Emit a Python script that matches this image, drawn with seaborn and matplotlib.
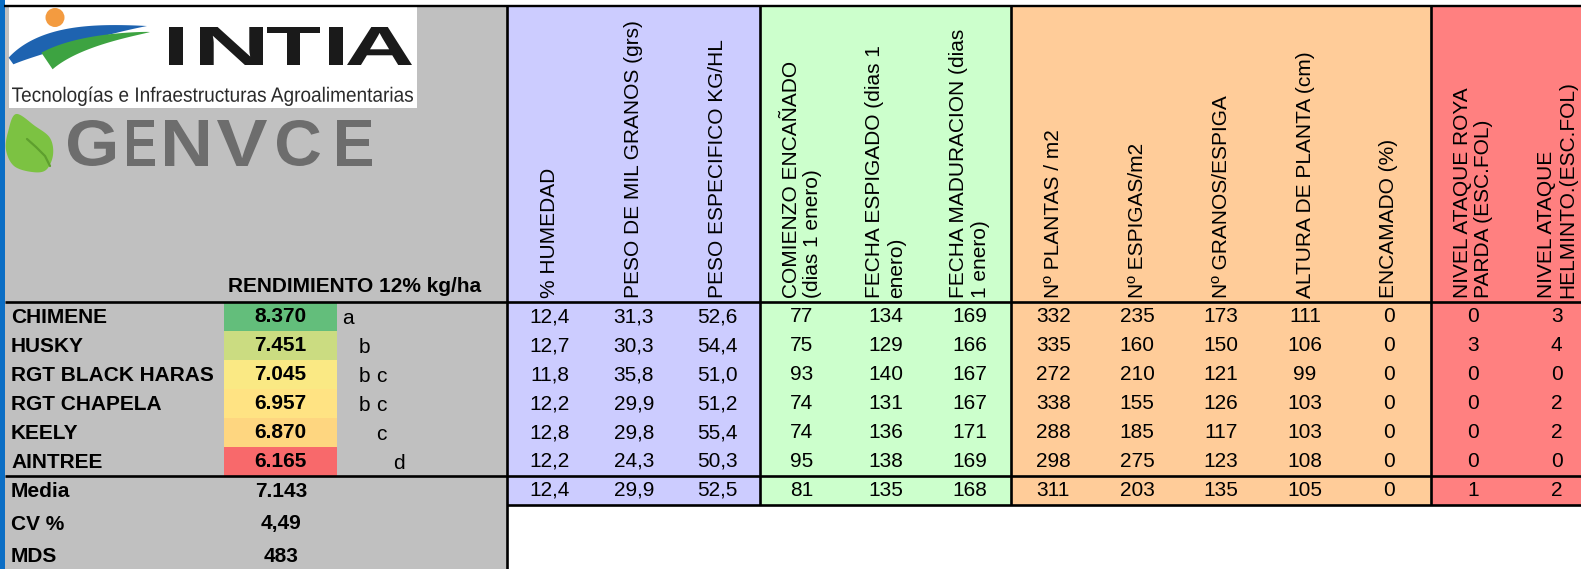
import numpy as np
import pandas as pd
import matplotlib
matplotlib.use("Agg")
import matplotlib.pyplot as plt
import seaborn as sns
from matplotlib.colors import ListedColormap, LinearSegmentedColormap
from matplotlib.patches import Rectangle, PathPatch, Circle, Polygon
from matplotlib.textpath import TextPath
from matplotlib.font_manager import FontProperties
from matplotlib.transforms import Affine2D

# ---------------- data ----------------
varieties = ["CHIMENE", "HUSKY", "RGT BLACK HARAS", "RGT CHAPELA", "KEELY", "AINTREE"]
rendimiento = [8370, 7451, 7045, 6957, 6870, 6165]
letras = ["a", "b", "bc", "bc", "c", "d"]
stat_labels = ["Media", "CV %", "MDS"]
stat_values = ["7.143", "4,49", "483"]

column_headers = [
    "% HUMEDAD",
    "PESO DE MIL GRANOS (grs)",
    "PESO ESPECIFICO KG/HL",
    "COMIENZO ENCAÑADO\n(dias 1 enero)",
    "FECHA ESPIGADO (dias 1\nenero)",
    "FECHA MADURACION (dias\n1 enero)",
    "Nº PLANTAS / m2",
    "Nº ESPIGAS/m2",
    "Nº GRANOS/ESPIGA",
    "ALTURA DE PLANTA (cm)",
    "ENCAMADO (%)",
    "NIVEL ATAQUE ROYA\nPARDA (ESC.FOL)",
    "NIVEL ATAQUE\nHELMINTO.(ESC.FOL)",
]
column_groups = [0, 0, 0, 1, 1, 1, 2, 2, 2, 2, 2, 3, 3]
column_decimals = [1, 1, 1, 0, 0, 0, 0, 0, 0, 0, 0, 0, 0]

humedad = [12.4, 12.7, 11.8, 12.2, 12.8, 12.2]
peso_mil = [31.3, 30.3, 35.8, 29.9, 29.8, 24.3]
peso_esp = [52.6, 54.4, 51.0, 51.2, 55.4, 50.3]
encanado = [77, 75, 93, 74, 74, 95]
espigado = [134, 129, 140, 131, 136, 138]
maduracion = [169, 166, 167, 167, 171, 169]
plantas = [332, 335, 272, 338, 288, 298]
espigas = [235, 160, 210, 155, 185, 275]
granos = [173, 150, 121, 126, 117, 123]
altura = [111, 106, 99, 103, 103, 108]
encamado = [0, 0, 0, 0, 0, 0]
roya = [0, 3, 0, 0, 0, 0]
helminto = [3, 4, 0, 2, 2, 0]
medias = [12.4, 29.9, 52.5, 81, 135, 168, 311, 203, 135, 105, 0, 1, 2]

# ---------------- style ----------------
group_colors = ["#CCCCFF", "#CCFFCC", "#FFCC99", "#FF8080"]
GRAY = "#C0C0C0"
FS = 15
sns.set_theme(style="white")
plt.rcParams["font.family"] = ["Liberation Sans", "DejaVu Sans"]
plt.rcParams["text.color"] = "black"

W, H = 1581, 569
fig = plt.figure(figsize=(W / 100, H / 100), dpi=100)


def px_axes(x0, y0, x1, y1, z):
    ax = fig.add_axes([x0 / W, 1 - y1 / H, (x1 - x0) / W, (y1 - y0) / H])
    ax.set_zorder(z)
    return ax


# layout geometry (pixels)
COL_LEFT, COL_W = 508, 83.9
ROW_TOP, ROW_H = 302.5, 28.9
HEAD_TOP = 7
ncols = len(column_headers)

# ---------------- background axes ----------------
ax_bg = px_axes(0, 0, W, H, 0)
ax_bg.set_xlim(0, W)
ax_bg.set_ylim(H, 0)
ax_bg.axis("off")

ax_bg.add_patch(Rectangle((0, 0), W, H, fc="white", ec="none"))
ax_bg.add_patch(Rectangle((4, 6), 503, H, fc=GRAY, ec="none"))
ax_bg.add_patch(Rectangle((0, 0), 4.5, H, fc="#0B6EC5", ec="none"))

# header backgrounds per column group
for i, g in enumerate(column_groups):
    ax_bg.add_patch(Rectangle((COL_LEFT + i * COL_W, HEAD_TOP), COL_W + 0.5,
                              ROW_TOP - HEAD_TOP, fc=group_colors[g], ec="none"))

# header texts (rotated)
for i, txt in enumerate(column_headers):
    cx = COL_LEFT + (i + 0.5) * COL_W
    ax_bg.text(cx, 298, txt, rotation=90, ha="center", va="bottom",
               fontsize=FS, multialignment="left", linespacing=1.15, color="black")

# ---------------- logos ----------------
def fit_text(ax, s, x0, x1, ytop, ybot, color, weight="normal"):
    fp = FontProperties(family="Liberation Sans", weight=weight)
    tp = TextPath((0, 0), s, size=100, prop=fp)
    ext = tp.get_extents()
    sx = (x1 - x0) / ext.width
    sy = (ybot - ytop) / ext.height
    tr = Affine2D().translate(-ext.x0, -ext.y0).scale(sx, -sy).translate(x0, ybot)
    ax.add_patch(PathPatch(tr.transform_path(tp), fc=color, ec="none", lw=0, zorder=3))


def swoosh(p0, pc, p2, thick, profile, n=80):
    t = np.linspace(0, 1, n)[:, None]
    p0, pc, p2 = (np.array(p, float) for p in (p0, pc, p2))
    c = (1 - t) ** 2 * p0 + 2 * (1 - t) * t * pc + t ** 2 * p2
    d = 2 * (1 - t) * (pc - p0) + 2 * t * (p2 - pc)
    nrm = np.column_stack([-d[:, 1], d[:, 0]]) / np.linalg.norm(d, axis=1)[:, None]
    th = (thick * profile(t[:, 0]))[:, None] / 2
    return np.vstack([c + nrm * th, (c - nrm * th)[::-1]])


def smooth_poly(pts, n=12):
    pts = np.asarray(pts, float)
    out = []
    m = len(pts)
    for k in range(m):
        p0, p1, p2, p3 = pts[(k - 1) % m], pts[k], pts[(k + 1) % m], pts[(k + 2) % m]
        for t in np.linspace(0, 1, n, endpoint=False):
            t2, t3 = t * t, t * t * t
            out.append(0.5 * ((2 * p1) + (-p0 + p2) * t + (2 * p0 - 5 * p1 + 4 * p2 - p3) * t2
                              + (-p0 + 3 * p1 - 3 * p2 + p3) * t3))
    return np.array(out)


ax_bg.add_patch(Rectangle((9, 7), 408, 101, fc="white", ec="none", zorder=2))
# INTIA emblem
ax_bg.add_patch(Circle((55, 17.5), 9.5, fc="#F39B40", ec="none", zorder=3))
ax_bg.add_patch(Polygon(swoosh((11, 61), (50, 33), (147, 26), 18,
                               lambda t: np.sin(np.pi * (0.15 + 0.85 * t))),
                        closed=True, fc="#1E63B0", ec="none", zorder=3))
ax_bg.add_patch(Polygon(swoosh((47, 61), (78, 40), (150, 32), 20,
                               lambda t: (1 - t) ** 0.8),
                        closed=True, fc="#3DA341", ec="none", zorder=3))
for ch, x0, x1 in [("I", 169, 183), ("N", 200, 263), ("T", 267, 320), ("I", 329, 343), ("A", 347, 412)]:
    fit_text(ax_bg, ch, x0, x1, 27, 65, "#1A1A1A", weight="bold")
fit_text(ax_bg, "Tecnologías e Infraestructuras Agroalimentarias", 12, 413, 86.5, 106, "#2A2A2A")

# GENVCE
leaf = [(16, 114), (35, 126), (50, 138), (53, 155), (46, 170), (32, 172), (14, 166), (6, 150), (8, 132)]
ax_bg.add_patch(Polygon(smooth_poly(leaf), closed=True, fc="#7CC242", ec="none", zorder=3))
ax_bg.plot([27, 36, 45, 50], [139, 147, 156, 166], color="#5E9F2E", lw=1.6, zorder=4,
           solid_capstyle="round")
for ch, x0, x1 in [("G", 68, 115), ("E", 127, 155), ("N", 165, 208), ("V", 217, 267),
                   ("C", 277, 320), ("E", 337, 372)]:
    fit_text(ax_bg, ch, x0, x1, 120, 166, "#6D6D6D", weight="bold")

# ---------------- left panel texts ----------------
ax_bg.text(228, 286, "RENDIMIENTO 12% kg/ha", fontsize=FS, fontweight="bold",
           ha="left", va="center", color="black")
row_centers = [ROW_TOP + (r + 0.5) * ROW_H for r in range(len(varieties) + 1)]
for r, name in enumerate(varieties):
    ax_bg.text(11, row_centers[r] + 1, name, fontsize=FS, fontweight="bold",
               ha="left", va="center", color="black")
    for ltr in letras[r]:
        k = ord(ltr) - ord("a")
        ax_bg.text(342 + 17 * k, row_centers[r] + 7.5, ltr, fontsize=FS,
                   ha="left", va="baseline", color="black")

stat_y = [491, 524, 557]
for lab, val, y in zip(stat_labels, stat_values, stat_y):
    ax_bg.text(11, y, lab, fontsize=FS, fontweight="bold", ha="left", va="center", color="black")
    ax_bg.text(281, y, val, fontsize=FS, fontweight="bold", ha="center", va="center", color="black")

# ---------------- data heatmap ----------------
columns = [humedad, peso_mil, peso_esp, encanado, espigado, maduracion,
           plantas, espigas, granos, altura, encamado, roya, helminto]


def fmt(v, d):
    return f"{v:.{d}f}".replace(".", ",")


values = np.array([list(c) + [m] for c, m in zip(columns, medias)], dtype=float).T
annot = np.array([[fmt(values[r, c], column_decimals[c]) for c in range(ncols)]
                  for r in range(values.shape[0])])
groups = np.tile(np.array(column_groups, float), (values.shape[0], 1))
df_groups = pd.DataFrame(groups, index=varieties + ["Media"], columns=column_headers)

n_rows = values.shape[0]
ax_data = px_axes(COL_LEFT, ROW_TOP, COL_LEFT + ncols * COL_W, ROW_TOP + n_rows * ROW_H, 1)
sns.heatmap(df_groups, ax=ax_data, cmap=ListedColormap(group_colors), vmin=-0.5, vmax=3.5,
            annot=annot, fmt="", cbar=False, xticklabels=False, yticklabels=False,
            linewidths=0, annot_kws={"fontsize": FS, "color": "black"})
ax_data.set_xlabel("")
ax_data.set_ylabel("")

# ---------------- yield heatmap ----------------
rend = np.array(rendimiento, float)
mid = (np.median(rend) - rend.min()) / (rend.max() - rend.min())
excel_cmap = LinearSegmentedColormap.from_list(
    "excel3", [(0, "#F8696B"), (mid, "#FFEB84"), (1, "#63BE7B")])
rend_annot = np.array([[f"{v:,.0f}".replace(",", ".")] for v in rend])
df_rend = pd.DataFrame(rend.reshape(-1, 1), index=varieties, columns=["RENDIMIENTO"])
ax_rend = px_axes(224, ROW_TOP, 337, ROW_TOP + len(varieties) * ROW_H, 1)
sns.heatmap(df_rend, ax=ax_rend, cmap=excel_cmap, vmin=rend.min(), vmax=rend.max(),
            annot=rend_annot, fmt="", cbar=False, xticklabels=False, yticklabels=False,
            linewidths=0, annot_kws={"fontsize": FS, "color": "black", "fontweight": "bold"})
ax_rend.set_xlabel("")
ax_rend.set_ylabel("")

# ---------------- grid lines on top ----------------
ax_top = px_axes(0, 0, W, H, 5)
ax_top.set_xlim(0, W)
ax_top.set_ylim(H, 0)
ax_top.axis("off")
ax_top.patch.set_alpha(0)
LW = 1.9
table_bottom = ROW_TOP + n_rows * ROW_H
ax_top.hlines(6, 4, W, color="black", lw=LW * 0.9)
ax_top.hlines(ROW_TOP - 0.8, 4.5, W, color="black", lw=LW)
ax_top.hlines(ROW_TOP + len(varieties) * ROW_H, 4.5, W, color="black", lw=LW)
ax_top.hlines(table_bottom, 506.5, W, color="black", lw=LW)
ax_top.vlines(506.5, 6, H, color="black", lw=LW)
for i in range(1, ncols):
    if column_groups[i] != column_groups[i - 1]:
        ax_top.vlines(COL_LEFT + i * COL_W, 6, table_bottom, color="black", lw=LW)

fig.savefig("out.png", dpi=100)
